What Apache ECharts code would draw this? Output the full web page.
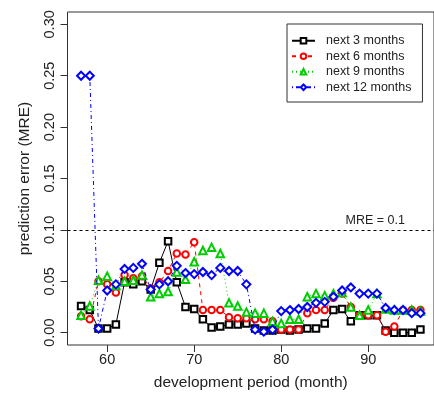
<!DOCTYPE html>
<html>
<head>
<meta charset="utf-8">
<script src="https://cdn.jsdelivr.net/npm/echarts@6/dist/echarts.min.js"></script>
<style>
  html, body { margin: 0; padding: 0; background: #fff; }
  #chart { width: 434px; height: 398px; }
</style>
</head>
<body>
<div id="chart"></div>
<script>
// development period (month)
const months = [57, 58, 59, 60, 61, 62, 63, 64, 65, 66, 67, 68, 69, 70, 71, 72, 73, 74, 75, 76,
  77, 78, 79, 80, 81, 82, 83, 84, 85, 86, 87, 88, 89, 90, 91, 92, 93, 94, 95, 96];

// prediction error (MRE) per horizon
const next3 = [0.026, 0.022, 0.004, 0.004, 0.008, 0.049, 0.047, 0.050, 0.042, 0.068,
  0.089, 0.049, 0.025, 0.023, 0.013, 0.005, 0.006, 0.008, 0.008, 0.009,
  0.004, 0.002, 0.002, 0.003, 0.002, 0.003, 0.004, 0.004, 0.009, 0.022,
  0.023, 0.011, 0.017, 0.017, 0.017, 0.002, 0.000, 0.000, 0.000, 0.003];
const next6 = [0.016, 0.013, 0.050, 0.047, 0.039, 0.056, 0.053, 0.055, 0.043, 0.049,
  0.060, 0.077, 0.076, 0.088, 0.022, 0.022, 0.022, 0.015, 0.014, 0.014,
  0.013, 0.013, 0.011, 0.003, 0.003, 0.003, 0.019, 0.022, 0.022, 0.034,
  0.038, 0.025, 0.017, 0.017, 0.017, 0.001, 0.006, 0.022, 0.022, 0.022];
const next9 = [0.017, 0.026, 0.051, 0.055, 0.046, 0.050, 0.051, 0.056, 0.035, 0.038,
  0.040, 0.059, 0.052, 0.069, 0.080, 0.083, 0.077, 0.029, 0.026, 0.020,
  0.019, 0.019, 0.011, 0.009, 0.013, 0.013, 0.035, 0.038, 0.036, 0.038,
  0.039, 0.025, 0.017, 0.022, 0.038, 0.023, 0.022, 0.022, 0.022, 0.021];
const next12 = [0.250, 0.250, 0.004, 0.041, 0.047, 0.062, 0.063, 0.067, 0.042, 0.047,
  0.050, 0.065, 0.058, 0.057, 0.059, 0.056, 0.063, 0.060, 0.060, 0.047,
  0.003, 0.001, 0.003, 0.021, 0.022, 0.023, 0.025, 0.029, 0.030, 0.035,
  0.041, 0.044, 0.038, 0.038, 0.038, 0.024, 0.022, 0.022, 0.019, 0.019];

const xTicks = [60, 70, 80, 90];
const yTicks = [0, 0.05, 0.10, 0.15, 0.20, 0.25, 0.30];
const mreThreshold = 0.1;

const FONT = 'Liberation Sans, Arial, sans-serif';
const TEXT = '#222';

const seriesDefs = [
  { name: 'next 3 months', data: next3, color: '#000000', symbol: 'emptyRect', size: 6.5, dash: 'solid' },
  { name: 'next 6 months', data: next6, color: '#ff0000', symbol: 'emptyCircle', size: 6.5, dash: [4, 4] },
  { name: 'next 9 months', data: next9, color: '#00cd00', symbol: 'emptyTriangle', size: 7.5, dash: [1, 3] },
  { name: 'next 12 months', data: next12, color: '#0000ff', symbol: 'emptyDiamond', size: 8, dash: [1, 3, 4, 3] }
];

const chart = echarts.init(document.getElementById('chart'), null, { renderer: 'canvas' });

const series = seriesDefs.map((s, i) => {
  const item = {
    name: s.name,
    type: 'line',
    data: months.map((m, k) => [m, s.data[k]]),
    symbol: s.symbol,
    symbolSize: s.size,
    showAllSymbol: true,
    color: s.color,
    lineStyle: { color: s.color, width: 1, type: s.dash },
    itemStyle: { color: s.color, borderColor: s.color, borderWidth: 1 },
    animation: false,
    z: 2 + i
  };
  if (i === 0) {
    item.markLine = {
      silent: true,
      symbol: 'none',
      lineStyle: { color: '#000', width: 1, type: [3, 3] },
      label: {
        formatter: 'MRE = ' + mreThreshold,
        position: 'insideEndTop',
        distance: [29, 3],
        color: TEXT,
        fontFamily: FONT,
        fontSize: 12.5
      },
      data: [{ yAxis: mreThreshold }]
    };
  }
  return item;
});

chart.setOption({
  animation: false,
  backgroundColor: '#fff',
  grid: {
    left: 67.5, right: -9, top: 12, bottom: 53,
    show: true, borderColor: '#333', borderWidth: 1, backgroundColor: 'transparent'
  },
  legend: {
    left: 287, top: 24,
    orient: 'vertical',
    backgroundColor: '#fff',
    borderColor: '#333', borderWidth: 1, borderRadius: 0,
    padding: [9, 11, 7, 4],
    itemWidth: 23, itemHeight: 7, itemGap: 0,
    textStyle: { color: TEXT, fontFamily: FONT, fontSize: 12.5, lineHeight: 15.5, padding: [0, 0, 0, 6] },
    data: seriesDefs.map(s => s.name)
  },
  xAxis: {
    type: 'value',
    min: 55.44, max: 97.56,
    name: 'development period (month)',
    nameLocation: 'middle',
    nameGap: 30,
    nameTextStyle: { color: TEXT, fontFamily: FONT, fontSize: 15.5 },
    axisLine: { show: false, onZero: false },
    axisTick: { show: true, customValues: xTicks, length: 7, lineStyle: { color: '#333' } },
    axisLabel: { customValues: xTicks, color: TEXT, fontFamily: FONT, fontSize: 14.5, margin: 7 },
    splitLine: { show: false }
  },
  yAxis: {
    type: 'value',
    min: -0.012, max: 0.312,
    name: 'prediction error (MRE)',
    nameLocation: 'middle',
    nameGap: 35,
    nameTextStyle: { color: TEXT, fontFamily: FONT, fontSize: 15.5 },
    axisLine: { show: false, onZero: false },
    axisTick: { show: true, customValues: yTicks, length: 7, lineStyle: { color: '#333' } },
    axisLabel: {
      customValues: yTicks, rotate: 90, color: TEXT, fontFamily: FONT, fontSize: 14.5, margin: 10,
      formatter: v => v.toFixed(2)
    },
    splitLine: { show: false }
  },
  series: series
});
</script>
</body>
</html>
